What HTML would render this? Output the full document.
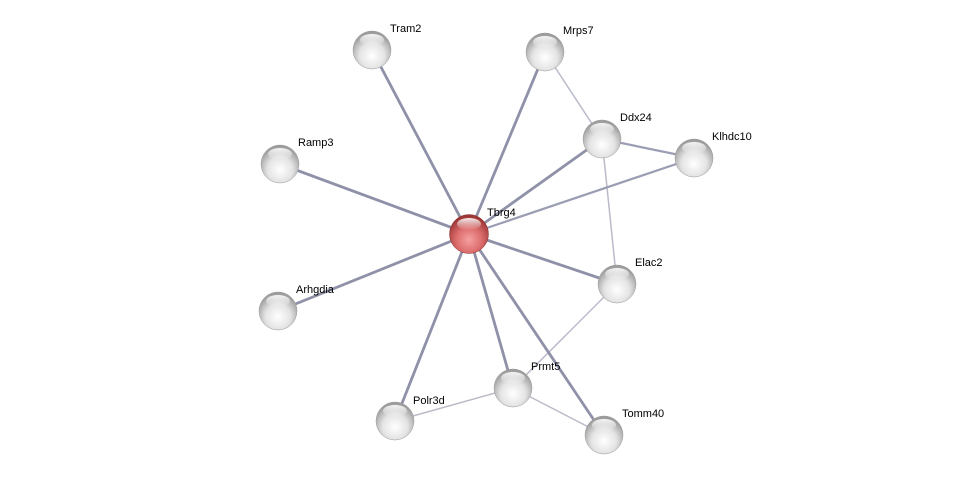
<!DOCTYPE html>
<html><head><style>html,body{margin:0;padding:0;background:#fff;}svg{display:block}</style></head>
<body>
<svg width="976" height="480" xmlns="http://www.w3.org/2000/svg" font-family="Liberation Sans, sans-serif" font-size="11">
<defs>
<radialGradient id="g" cx="50%" cy="65%" r="60%">
<stop offset="0" stop-color="#ffffff"/><stop offset="0.55" stop-color="#e4e4e4"/><stop offset="1" stop-color="#9c9c9c"/>
</radialGradient>
<radialGradient id="r" cx="50%" cy="65%" r="60%">
<stop offset="0" stop-color="#f6a0a0"/><stop offset="0.55" stop-color="#dc6c6c"/><stop offset="1" stop-color="#9e3636"/>
</radialGradient>
<linearGradient id="hl" x1="0" y1="0" x2="0" y2="1">
<stop offset="0" stop-color="#fff" stop-opacity="0.9"/><stop offset="1" stop-color="#fff" stop-opacity="0"/>
</linearGradient>
</defs>
<g stroke="#b9bbc9" stroke-width="1.5">
<line x1="545" y1="52" x2="602" y2="139"/>
<line x1="602" y1="139" x2="617" y2="284"/>
<line x1="617" y1="284" x2="513" y2="388"/>
<line x1="513" y1="388" x2="395" y2="421"/>
<line x1="513" y1="388" x2="604" y2="435"/>
</g>
<g stroke="#9a9db3" stroke-width="2.2">
<line x1="602" y1="139" x2="694" y2="158"/>
<line x1="469" y1="234" x2="694" y2="158"/>
</g>
<g stroke="#8e91a8" stroke-width="2.8">
<line x1="469" y1="234" x2="372" y2="50"/>
<line x1="469" y1="234" x2="545" y2="52"/>
<line x1="469" y1="234" x2="602" y2="139"/>
<line x1="469" y1="234" x2="280" y2="164"/>
<line x1="469" y1="234" x2="617" y2="284"/>
<line x1="469" y1="234" x2="278" y2="311"/>
<line x1="469" y1="234" x2="513" y2="388"/>
<line x1="469" y1="234" x2="395" y2="421"/>
<line x1="469" y1="234" x2="604" y2="435"/>
</g>
<g>
<g transform="translate(372,50)"><circle r="19" fill="url(#g)" stroke="#999" stroke-width="0.5"/><ellipse cx="0" cy="-10" rx="12" ry="6" fill="url(#hl)"/></g>
<g transform="translate(545,52)"><circle r="19" fill="url(#g)" stroke="#999" stroke-width="0.5"/><ellipse cx="0" cy="-10" rx="12" ry="6" fill="url(#hl)"/></g>
<g transform="translate(602,139)"><circle r="19" fill="url(#g)" stroke="#999" stroke-width="0.5"/><ellipse cx="0" cy="-10" rx="12" ry="6" fill="url(#hl)"/></g>
<g transform="translate(694,158)"><circle r="19" fill="url(#g)" stroke="#999" stroke-width="0.5"/><ellipse cx="0" cy="-10" rx="12" ry="6" fill="url(#hl)"/></g>
<g transform="translate(280,164)"><circle r="19" fill="url(#g)" stroke="#999" stroke-width="0.5"/><ellipse cx="0" cy="-10" rx="12" ry="6" fill="url(#hl)"/></g>
<g transform="translate(617,284)"><circle r="19" fill="url(#g)" stroke="#999" stroke-width="0.5"/><ellipse cx="0" cy="-10" rx="12" ry="6" fill="url(#hl)"/></g>
<g transform="translate(278,311)"><circle r="19" fill="url(#g)" stroke="#999" stroke-width="0.5"/><ellipse cx="0" cy="-10" rx="12" ry="6" fill="url(#hl)"/></g>
<g transform="translate(513,388)"><circle r="19" fill="url(#g)" stroke="#999" stroke-width="0.5"/><ellipse cx="0" cy="-10" rx="12" ry="6" fill="url(#hl)"/></g>
<g transform="translate(395,421)"><circle r="19" fill="url(#g)" stroke="#999" stroke-width="0.5"/><ellipse cx="0" cy="-10" rx="12" ry="6" fill="url(#hl)"/></g>
<g transform="translate(604,435)"><circle r="19" fill="url(#g)" stroke="#999" stroke-width="0.5"/><ellipse cx="0" cy="-10" rx="12" ry="6" fill="url(#hl)"/></g>
<g transform="translate(469,234)"><circle r="19.5" fill="url(#r)" stroke="#8a3030" stroke-width="0.5"/><ellipse cx="0" cy="-10" rx="12" ry="6" fill="url(#hl)"/></g>
</g>
<g fill="#000">
<text x="390" y="32">Tram2</text>
<text x="563" y="34">Mrps7</text>
<text x="620" y="121">Ddx24</text>
<text x="712" y="140">Klhdc10</text>
<text x="298" y="146">Ramp3</text>
<text x="487" y="216">Tbrg4</text>
<text x="635" y="266">Elac2</text>
<text x="296" y="293">Arhgdia</text>
<text x="531" y="370">Prmt5</text>
<text x="413" y="404">Polr3d</text>
<text x="622" y="417">Tomm40</text>
</g>
</svg>
</body></html>
